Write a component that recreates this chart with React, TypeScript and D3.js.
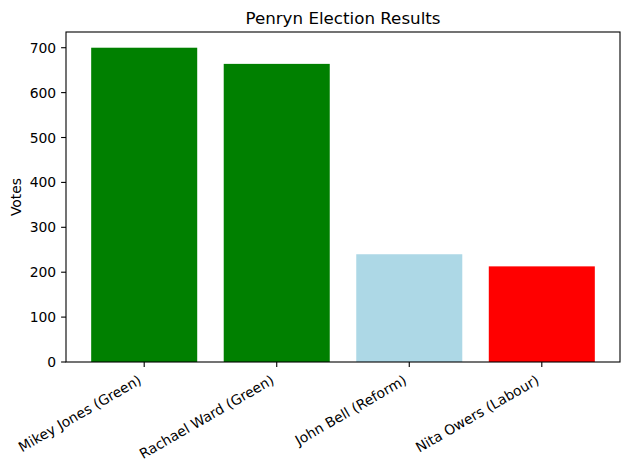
import React from "react";
import * as d3 from "d3";

const candidates = [
  "Mikey Jones (Green)",
  "Rachael Ward (Green)",
  "John Bell (Reform)",
  "Nita Owers (Labour)",
];
const votes = [700, 664, 240, 213];
const barColors = ["green", "green", "lightblue", "red"];
const yTicks = [0, 100, 200, 300, 400, 500, 600, 700];
const title = "Penryn Election Results";
const yLabel = "Votes";

const W = 628;
const H = 470;
const margin = { left: 66, right: 8, top: 32, bottom: 108 };
const FONT = "'DejaVu Sans', sans-serif";

export default function App() {
  const x0 = margin.left;
  const x1 = W - margin.right;
  const y0 = H - margin.bottom;
  const y1 = margin.top;
  const n = candidates.length;
  const barW = 0.8;
  const pad = 0.05 * (n - 1 + barW);
  const x = d3
    .scaleLinear()
    .domain([-barW / 2 - pad, n - 1 + barW / 2 + pad])
    .range([x0, x1]);
  const yMax = (d3.max(votes) as number) * 1.05;
  const y = d3.scaleLinear().domain([0, yMax]).range([y0, y1]);
  const tickLen = 4.9;
  const fs = 13.9;
  const lblH = 16.2;
  const descent = 3.3;
  const sin30 = 0.5;
  const cos30 = Math.sqrt(3) / 2;
  const topY = y0 + tickLen + 4.9;

  return (
    <svg
      width={W}
      height={H}
      style={{ position: "absolute", left: 0, top: 0, background: "#fff" }}
      fontFamily={FONT}
    >
      <rect x={0} y={0} width={W} height={H} fill="#fff" />
      {votes.map((v, i) => (
        <rect
          key={i}
          x={x(i - barW / 2)}
          width={x(i + barW / 2) - x(i - barW / 2)}
          y={y(v)}
          height={y0 - y(v)}
          fill={barColors[i]}
        />
      ))}
      <rect
        x={x0}
        y={y1}
        width={x1 - x0}
        height={y0 - y1}
        fill="none"
        stroke="#000"
        strokeWidth={1.1}
      />
      {yTicks.map((t) => (
        <g key={t}>
          <line x1={x0 - tickLen} x2={x0} y1={y(t)} y2={y(t)} stroke="#000" strokeWidth={1.1} />
          <text
            x={x0 - tickLen - 4.9}
            y={y(t)}
            dy="0.36em"
            textAnchor="end"
            fontSize={fs}
            fill="#000"
          >
            {t}
          </text>
        </g>
      ))}
      {candidates.map((c, i) => {
        const tx = x(i);
        const bx = tx - descent * sin30;
        const by = topY + lblH * cos30 - descent * cos30;
        return (
          <g key={c}>
            <line x1={tx} x2={tx} y1={y0} y2={y0 + tickLen} stroke="#000" strokeWidth={1.1} />
            <text
              transform={`translate(${bx},${by}) rotate(-30)`}
              textAnchor="end"
              fontSize={fs}
              fill="#000"
            >
              {c}
            </text>
          </g>
        );
      })}
      <text
        x={(x0 + x1) / 2}
        y={y1 - 8.3}
        textAnchor="middle"
        fontSize={16.7}
        fill="#000"
      >
        {title}
      </text>
      <text
        transform={`translate(21,${(y0 + y1) / 2}) rotate(-90)`}
        textAnchor="middle"
        fontSize={fs}
        fill="#000"
      >
        {yLabel}
      </text>
    </svg>
  );
}
